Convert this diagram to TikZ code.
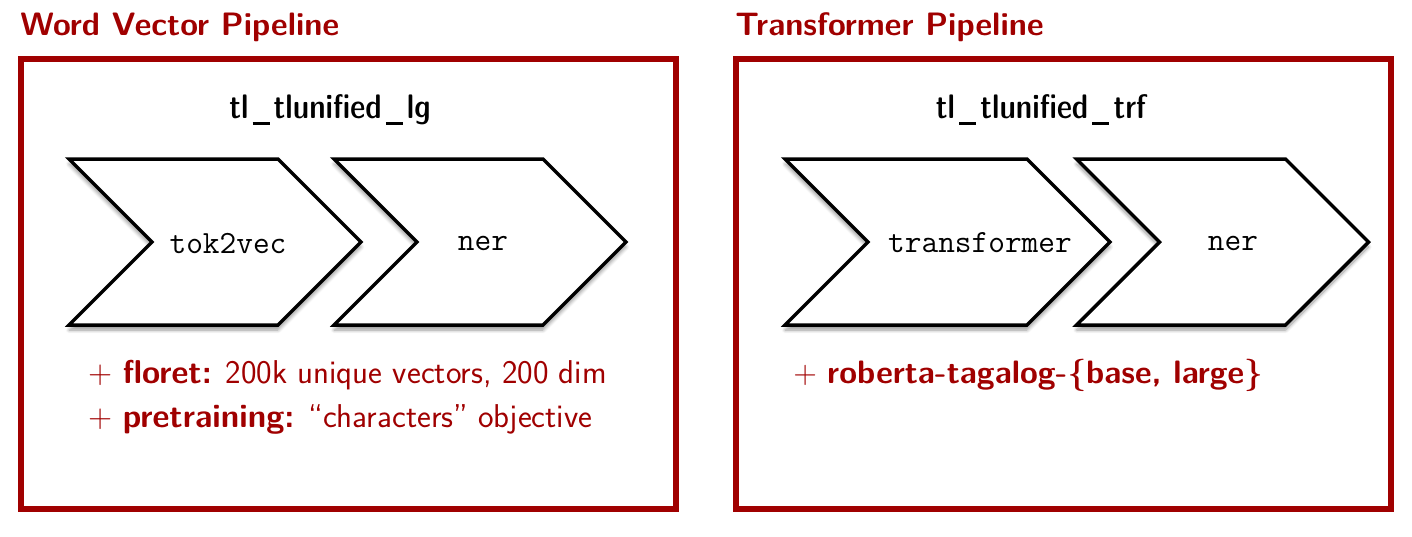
\documentclass[tikz,border=0pt]{standalone}
\usepackage{tikz}
\usetikzlibrary{shapes.symbols,shadows.blur}

\definecolor{pipered}{HTML}{A00000}
\newcommand{\lowbar}{\kern0.12em\rule[-0.2em]{0.5em}{0.085em}\kern0.12em}

\tikzset{
  pipebox/.style={draw=pipered,line width=3pt},
  pipetitle/.style={anchor=base west,inner sep=0pt,text=pipered,
    font=\fontsize{16.2}{19}\sffamily\bfseries},
  modelname/.style={anchor=base,inner sep=0pt,
    font=\fontsize{17}{20}\sffamily\fontseries{sbc}\selectfont},
  component/.style={signal,signal from=west,signal to=east,
    signal pointer angle=90,draw,fill=white,line width=1.75pt,
    minimum height=83pt,minimum width=146pt,inner sep=0pt,
    blur shadow={shadow xshift=0pt,shadow yshift=-2.5pt,shadow blur steps=8}},
  compname/.style={inner sep=0pt,font=\fontsize{16.2}{19}\ttfamily\selectfont},
  extras/.style={anchor=base west,inner sep=0pt,text=pipered,
    font=\fontsize{16.5}{19}\sffamily}
}

\begin{document}
\begin{tikzpicture}[x=0.5pt,y=-0.5pt]
  \useasboundingbox (0,0) rectangle (1412,536);

  % word vector pipeline
  \node[pipetitle] (wvtitle) at (20,35) {Word Vector Pipeline};
  \draw[pipebox] (21,59) rectangle (676,509);
  \node[modelname] (lgname) at (330,118) {tl\lowbar tlunified\lowbar lg};
  \node[component] (lgtok) at (215,242) {};
  \node[component] (lgner) at (480,242) {};
  \node[compname] (lgtoktext) at (228,243) {tok2vec};
  \node[compname] (lgnertext) at (483,243) {ner};
  \node[extras] (lgfloret) at (88,383)
    {+ \textbf{floret:} 200k unique vectors, 200 dim};
  \node[extras] (lgpretrain) at (88,427)
    {+ \textbf{pretraining:} “characters” objective};

  % transformer pipeline
  \node[pipetitle] (trftitle) at (735,35) {Transformer Pipeline};
  \draw[pipebox] (736,59) rectangle (1391,509);
  \node[modelname] (trfname) at (1041,118) {tl\lowbar tlunified\lowbar trf};
  \node[component,minimum width=162.5pt] (trftrans) at (947.5,242) {};
  \node[component] (trfner) at (1222.5,242) {};
  \node[compname] (trftranstext) at (980,243) {transformer};
  \node[compname] (trfnertext) at (1233,243) {ner};
  \node[extras,font=\fontsize{16.2}{19}\sffamily] (trfroberta) at (793,383)
    {+ \textbf{roberta-tagalog-\{base, large\}}};
\end{tikzpicture}
\end{document}
